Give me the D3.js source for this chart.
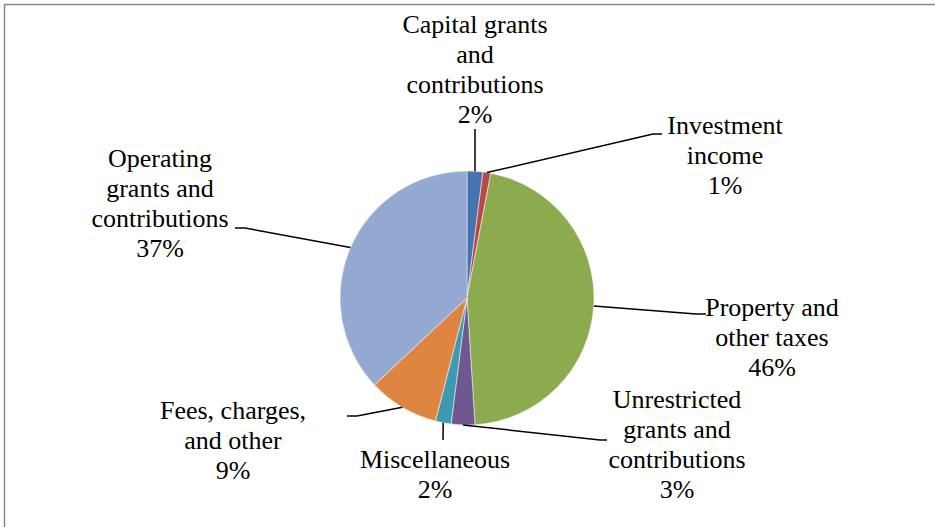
<!DOCTYPE html>
<html>
<head>
<meta charset="utf-8">
<script src="https://cdn.jsdelivr.net/npm/d3@7"></script>
<style>
  body { margin: 0; background: #fff; }
  svg { display: block; }
  text.lbl { font-family: 'Liberation Serif', 'Times New Roman', Times, 'DejaVu Serif', serif; }
</style>
</head>
<body>
<div class="chart"></div>
<script>
// revenue pie
var width = 935;
var height = 527;

var categories = ['Capital grants and contributions', 'Investment income', 'Property and other taxes',
  'Unrestricted grants and contributions', 'Miscellaneous', 'Fees, charges, and other',
  'Operating grants and contributions'];
var values = [2, 1, 46, 3, 2, 9, 37];
var colors = ['#4674b0', '#b84947', '#8caa4e', '#6f5790', '#3f9ab1', '#de8641', '#93a9d2'];

// label text lines (percent added below)
var labelLines = [
  ['Capital grants', 'and', 'contributions'],
  ['Investment', 'income'],
  ['Property and', 'other taxes'],
  ['Unrestricted', 'grants and', 'contributions'],
  ['Miscellaneous'],
  ['Fees, charges,', 'and other'],
  ['Operating', 'grants and', 'contributions']
];

// hand placed label spots, like excel does it: text centre, first baseline, leader bend points
var labelLayout = [
  {x: 475, y: 33, bend: [[475, 129]]},
  {x: 725, y: 134, bend: [[653, 134], [662, 134]]},
  {x: 772, y: 316, bend: [[696, 314], [706, 314]]},
  {x: 677, y: 408, bend: [[600, 440], [607, 440]]},
  {x: 435, y: 468, bend: [[443, 440]]},
  {x: 233, y: 419, bend: [[357, 416], [347, 416]]},
  {x: 160, y: 167, bend: [[245, 228], [235, 228]]}
];

var cx = 467, cy = 298, radius = 127;
var lineHeight = 30;

var data = categories.map((c, i) => ({name: c, value: values[i], color: colors[i], lines: labelLines[i], layout: labelLayout[i]}));

var pie = d3.pie().sort(null).value(d => d.value);
var arcs = pie(data);

var arc = d3.arc().innerRadius(0).outerRadius(radius);
var edge = d3.arc().innerRadius(radius).outerRadius(radius);

var svg = d3.select('.chart').append('svg')
  .attr('width', width)
  .attr('height', height);

// chart frame (only top and left show in the window)
svg.append('rect')
  .attr('x', 4.5)
  .attr('y', 4.5)
  .attr('width', 1200)
  .attr('height', 1200)
  .attr('fill', 'none')
  .attr('stroke', '#888888')
  .attr('stroke-width', 1.5);

var g = svg.append('g')
  .attr('transform', `translate(${cx}, ${cy})`);

g.selectAll('path')
  .data(arcs)
  .enter().append('path')
  .attr('fill', d => d.data.color)
  .attr('stroke', '#ffffff')
  .attr('stroke-width', 0.5)
  .attr('d', arc);

// leader lines
var line = d3.line();
svg.selectAll('path.leader')
  .data(arcs)
  .enter().append('path')
  .attr('class', 'leader')
  .attr('fill', 'none')
  .attr('stroke', '#000')
  .attr('stroke-width', 1.5)
  .attr('d', d => {
    var p = edge.centroid(d);
    return line([[p[0] + cx, p[1] + cy]].concat(d.data.layout.bend));
  });

var text = svg.selectAll('text.lbl')
  .data(arcs)
  .enter().append('text')
  .attr('class', 'lbl')
  .attr('text-anchor', 'middle')
  .style('font-size', '26px')
  .attr('fill', '#000');

text.selectAll('tspan')
  .data(d => d.data.lines.concat([d.data.value + '%']).map((s, i) => ({s: s, i: i, lay: d.data.layout})))
  .enter().append('tspan')
  .attr('x', t => t.lay.x)
  .attr('y', t => t.lay.y + t.i * lineHeight)
  .text(t => t.s);
</script>
</body>
</html>
